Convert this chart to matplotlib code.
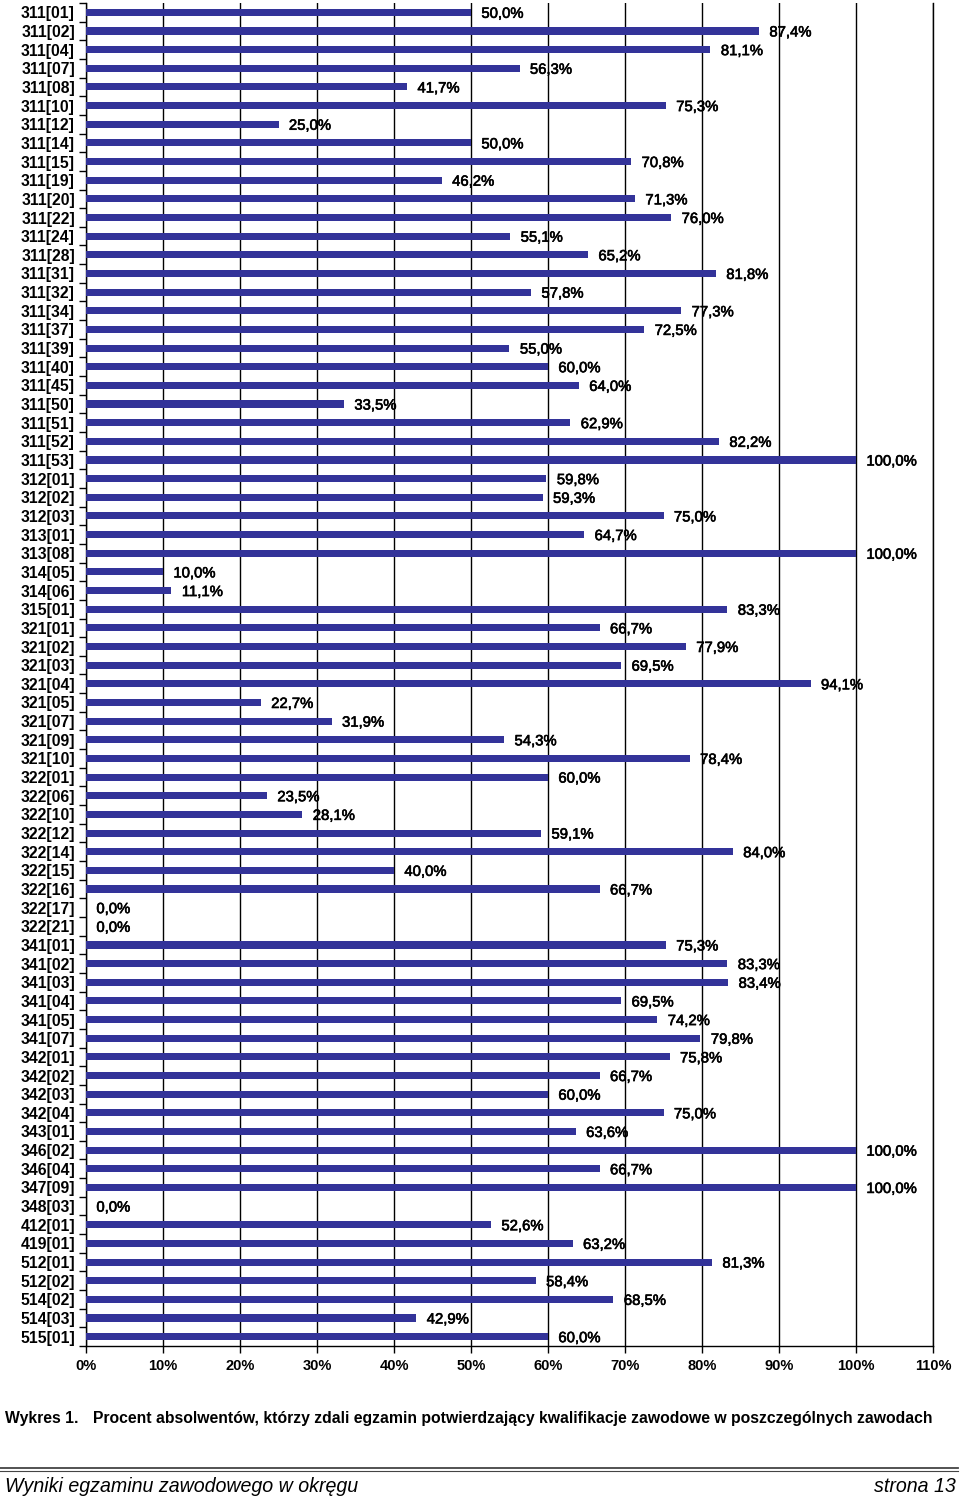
import matplotlib
matplotlib.use('Agg')
import matplotlib.pyplot as plt
import matplotlib.patheffects as pe
from matplotlib.lines import Line2D
import numpy as np

plt.rcParams['font.family'] = ['Liberation Sans', 'DejaVu Sans']

zawody = ['311[01]', '311[02]', '311[04]', '311[07]', '311[08]', '311[10]', '311[12]', '311[14]',
          '311[15]', '311[19]', '311[20]', '311[22]', '311[24]', '311[28]', '311[31]', '311[32]',
          '311[34]', '311[37]', '311[39]', '311[40]', '311[45]', '311[50]', '311[51]', '311[52]',
          '311[53]', '312[01]', '312[02]', '312[03]', '313[01]', '313[08]', '314[05]', '314[06]',
          '315[01]', '321[01]', '321[02]', '321[03]', '321[04]', '321[05]', '321[07]', '321[09]',
          '321[10]', '322[01]', '322[06]', '322[10]', '322[12]', '322[14]', '322[15]', '322[16]',
          '322[17]', '322[21]', '341[01]', '341[02]', '341[03]', '341[04]', '341[05]', '341[07]',
          '342[01]', '342[02]', '342[03]', '342[04]', '343[01]', '346[02]', '346[04]', '347[09]',
          '348[03]', '412[01]', '419[01]', '512[01]', '512[02]', '514[02]', '514[03]', '515[01]']
procent = [50.0, 87.4, 81.1, 56.3, 41.7, 75.3, 25.0, 50.0,
           70.8, 46.2, 71.3, 76.0, 55.1, 65.2, 81.8, 57.8,
           77.3, 72.5, 55.0, 60.0, 64.0, 33.5, 62.9, 82.2,
           100.0, 59.8, 59.3, 75.0, 64.7, 100.0, 10.0, 11.1,
           83.3, 66.7, 77.9, 69.5, 94.1, 22.7, 31.9, 54.3,
           78.4, 60.0, 23.5, 28.1, 59.1, 84.0, 40.0, 66.7,
           0.0, 0.0, 75.3, 83.3, 83.4, 69.5, 74.2, 79.8,
           75.8, 66.7, 60.0, 75.0, 63.6, 100.0, 66.7, 100.0,
           0.0, 52.6, 63.2, 81.3, 58.4, 68.5, 42.9, 60.0]
x_ticks = np.arange(0, 111, 10)

fig = plt.figure(figsize=(9.6, 14.99), dpi=100)
ax = fig.add_axes([86 / 960, 1 - 1346 / 1499, (933 - 86) / 960, (1346 - 3) / 1499])

y = np.arange(len(zawody))
ax.barh(y, procent, height=0.38, color='#333399', zorder=3)

# etykiety wartości - lekko pogrubione
for yi, v in zip(y, procent):
    ax.text(v + 1.35, yi + 0.08, ('%.1f%%' % v).replace('.', ','), va='center', ha='left',
            fontsize=10.7, color='black', zorder=4,
            path_effects=[pe.withStroke(linewidth=0.45, foreground='black')])

ax.set_xlim(0, 110)
ax.set_ylim(len(zawody) - 0.5, -0.5)
ax.set_xticks(x_ticks)
ax.set_xticklabels(['%d%%' % t for t in x_ticks], fontsize=10.5, fontweight='bold')
ax.set_yticks(y)
ax.set_yticklabels(zawody, fontsize=11.3, fontweight='bold')
ax.tick_params(axis='y', length=0, pad=8)
ax.set_yticks(np.arange(len(zawody) + 1) - 0.5, minor=True)
ax.tick_params(axis='y', which='minor', length=5, width=1, direction='out')
ax.tick_params(axis='x', length=5, width=1, direction='out', pad=4)

ax.grid(axis='x', color='black', linewidth=1, zorder=1)
ax.spines['top'].set_visible(False)
for s in ['left', 'bottom', 'right']:
    ax.spines[s].set_linewidth(1)

fig.text(5 / 960, 1 - 1418 / 1499, 'Wykres 1.', fontsize=11.3, fontweight='bold', va='center')
fig.text(93 / 960, 1 - 1418 / 1499,
         'Procent absolwentów, którzy zdali egzamin potwierdzający kwalifikacje zawodowe w poszczególnych zawodach',
         fontsize=11.3, fontweight='bold', va='center')

fig.add_artist(Line2D([0, 958 / 960], [1 - 1468 / 1499] * 2, color='#444444', linewidth=1.3))
fig.add_artist(Line2D([0, 958 / 960], [1 - 1471 / 1499] * 2, color='#444444', linewidth=0.8))

fig.text(5 / 960, 1 - 1487 / 1499, 'Wyniki egzaminu zawodowego w okręgu', fontsize=14.1,
         fontstyle='italic', va='center')
fig.text(956 / 960, 1 - 1487 / 1499, 'strona 13', fontsize=14.1, fontstyle='italic',
         va='center', ha='right')

fig.savefig('out.png', dpi=100)
